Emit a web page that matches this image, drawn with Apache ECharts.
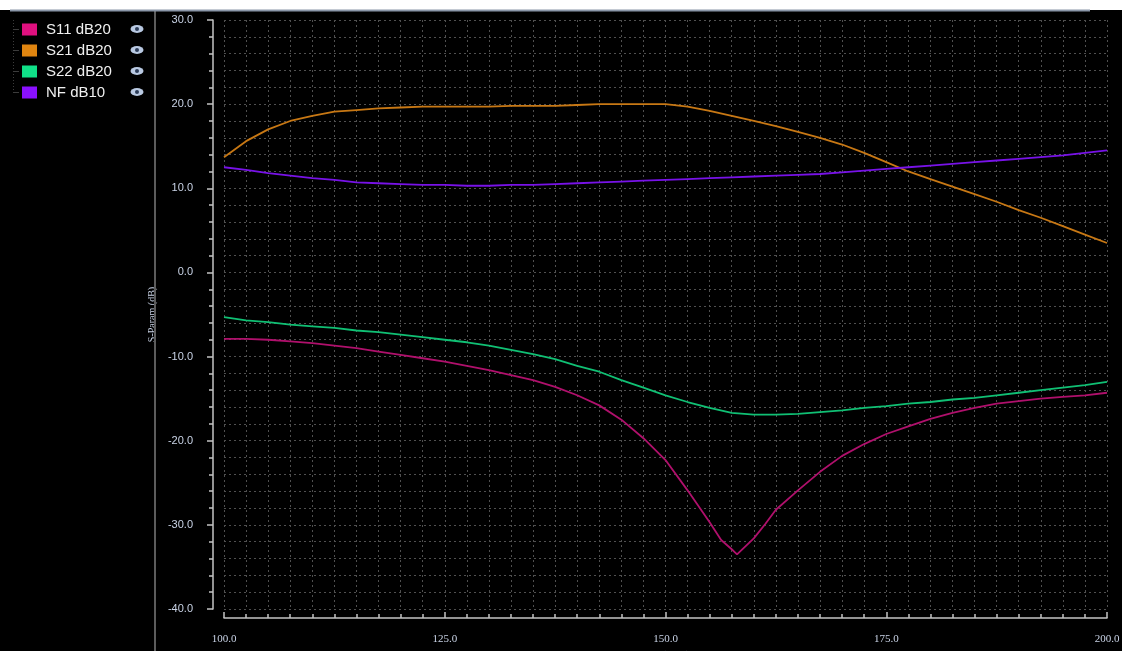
<!DOCTYPE html>
<html>
<head>
<meta charset="utf-8">
<title>S-Parameters</title>
<script src="https://cdn.jsdelivr.net/npm/echarts@6/dist/echarts.min.js"></script>
<style>
  html, body { margin: 0; padding: 0; background: #000; }
  #chart { width: 1122px; height: 651px; }
</style>
</head>
<body>
<div id="chart"></div>
<script>
// Frequency sweep (MHz) shared by S21, S22 and NF
const freq = [100,102.5,105,107.5,110,112.5,115,117.5,120,122.5,125,127.5,130,132.5,135,137.5,140,142.5,145,147.5,150,152.5,155,157.5,160,162.5,165,167.5,170,172.5,175,177.5,180,182.5,185,187.5,190,192.5,195,197.5,200];

// S11 has extra points around the match notch
const s11Freq = [100,102.5,105,107.5,110,112.5,115,117.5,120,122.5,125,127.5,130,132.5,135,137.5,140,142.5,145,147.5,150,152.5,155,156.3,157.5,158.1,160,161.3,162.5,165,167.5,170,172.5,175,177.5,180,182.5,185,187.5,190,192.5,195,197.5,200];
const s11 = [-7.9,-7.9,-8.0,-8.2,-8.4,-8.7,-9.0,-9.4,-9.8,-10.2,-10.6,-11.1,-11.6,-12.2,-12.8,-13.6,-14.6,-15.8,-17.5,-19.7,-22.3,-25.9,-29.7,-31.8,-32.9,-33.5,-31.6,-29.9,-28.2,-25.9,-23.7,-21.8,-20.4,-19.2,-18.3,-17.4,-16.7,-16.1,-15.6,-15.3,-15.0,-14.8,-14.6,-14.3];

const s21 = [13.7,15.6,17.0,18.0,18.6,19.1,19.3,19.5,19.6,19.7,19.7,19.7,19.7,19.8,19.8,19.8,19.9,20.0,20.0,20.0,20.0,19.7,19.2,18.6,18.0,17.4,16.7,16.0,15.2,14.2,13.1,12.0,11.1,10.2,9.3,8.4,7.4,6.5,5.5,4.5,3.5];
const s22 = [-5.3,-5.7,-5.9,-6.2,-6.4,-6.6,-6.9,-7.1,-7.4,-7.7,-8.0,-8.3,-8.7,-9.2,-9.7,-10.3,-11.1,-11.8,-12.8,-13.7,-14.6,-15.4,-16.1,-16.7,-16.9,-16.9,-16.8,-16.6,-16.4,-16.1,-15.9,-15.6,-15.4,-15.1,-14.9,-14.6,-14.3,-14.0,-13.7,-13.4,-13.0];
const nf = [12.5,12.2,11.8,11.5,11.2,11.0,10.7,10.6,10.5,10.4,10.4,10.3,10.3,10.4,10.4,10.5,10.6,10.7,10.8,10.9,11.0,11.1,11.2,11.3,11.4,11.5,11.6,11.7,11.9,12.1,12.3,12.5,12.7,12.9,13.1,13.3,13.5,13.7,13.9,14.2,14.5];

const traceNames = ['S11 dB20', 'S21 dB20', 'S22 dB20', 'NF dB10'];
const traceColors = ['#b0106c', '#c87814', '#10c074', '#7812e8'];
const swatchColors = ['#e0107f', '#e08510', '#10e088', '#8a10ff'];

const xAxisName = 'Freq (MHz)';
const yAxisName = 'S-Param (dB)';

function pairs(xs, ys) { return xs.map((x, i) => [x, ys[i]]); }
const traceData = [pairs(s11Freq, s11), pairs(freq, s21), pairs(freq, s22), pairs(freq, nf)];

const labelColor = '#c9d3e6';
const gridLine = { color: '#505050', width: 1, type: [2, 3] };

// Panel chrome: white title strip, top rule, separator, legend tree and visibility icons
const rowY = [29, 50, 71, 92];
const chrome = [
  { type: 'polygon', z: 100, shape: { points: [[0, 0], [1122, 0], [1122, 10], [0, 10]] }, style: { fill: '#ffffff', stroke: '#ffffff', lineWidth: 0 }, silent: true },
  { type: 'line', z: 101, shape: { x1: 10, y1: 10.5, x2: 1090, y2: 10.5 }, style: { stroke: '#8a96a8', lineWidth: 2 }, silent: true },
  { type: 'line', z: 100, shape: { x1: 155, y1: 11, x2: 155, y2: 651 }, style: { stroke: '#5c5c5c', lineWidth: 2 }, silent: true },
  { type: 'line', z: 100, shape: { x1: 13.5, y1: 20, x2: 13.5, y2: 94 }, style: { stroke: '#3c3c3c', lineWidth: 1, lineDash: [1, 2] }, silent: true }
];
rowY.forEach(y => {
  chrome.push({ type: 'line', z: 100, shape: { x1: 13, y1: y + 0.5, x2: 19, y2: y + 0.5 }, style: { stroke: '#3c3c3c', lineWidth: 1 }, silent: true });
  chrome.push({ type: 'circle', z: 100, x: 137, y: y, scaleY: 0.6, shape: { cx: 0, cy: 0, r: 6.5 }, style: { fill: '#b9c9e2' }, silent: true });
  chrome.push({ type: 'circle', z: 101, x: 137, y: y, shape: { cx: 0, cy: 0, r: 2 }, style: { fill: '#2c3c58' }, silent: true });
});

const chart = echarts.init(document.getElementById('chart'), null, { renderer: 'canvas' });
chart.setOption({
  backgroundColor: '#000000',
  animation: false,
  graphic: { elements: chrome },
  legend: {
    orient: 'vertical',
    left: 22,
    top: 22,
    padding: 0,
    itemWidth: 15,
    itemHeight: 12,
    itemGap: 6,
    selectedMode: false,
    icon: 'rect',
    textStyle: { color: '#f0f0f0', fontSize: 15, lineHeight: 15, fontFamily: 'Liberation Sans, Arial, sans-serif', padding: [0, 0, 0, 4] },
    data: traceNames.map((n, i) => ({ name: n, itemStyle: { color: swatchColors[i] } }))
  },
  grid: { left: 224, right: 15, top: 20, bottom: 42, containLabel: false, outerBoundsMode: 'none' },
  xAxis: {
    type: 'value',
    min: 100, max: 200, interval: 25,
    offset: 9,
    name: xAxisName,
    nameLocation: 'middle',
    nameGap: 27,
    nameTextStyle: { color: labelColor, fontSize: 10, fontFamily: 'Liberation Serif, serif' },
    axisLine: { show: true, onZero: false, lineStyle: { color: '#c4c4c4', width: 1.5 } },
    axisTick: { show: true, inside: true, length: 6, lineStyle: { color: '#c4c4c4', width: 1.5 } },
    minorTick: { show: true, splitNumber: 10, length: 4, lineStyle: { color: '#c4c4c4', width: 1.5 } },
    axisLabel: { color: labelColor, fontSize: 11, margin: 16, fontFamily: 'Liberation Serif, serif', formatter: v => v.toFixed(1) },
    splitLine: { show: true, lineStyle: gridLine },
    minorSplitLine: { show: true, lineStyle: gridLine }
  },
  yAxis: {
    type: 'value',
    min: -40, max: 30, interval: 10,
    offset: 11,
    name: yAxisName,
    nameLocation: 'middle',
    nameGap: 35,
    nameTextStyle: { color: labelColor, fontSize: 10, fontFamily: 'Liberation Serif, serif' },
    axisLine: { show: true, onZero: false, lineStyle: { color: '#c4c4c4', width: 1.5 } },
    axisTick: { show: true, inside: false, length: 6, lineStyle: { color: '#c4c4c4', width: 1.5 } },
    minorTick: { show: true, splitNumber: 5, length: 4, lineStyle: { color: '#c4c4c4', width: 1.5 } },
    axisLabel: { color: labelColor, fontSize: 11, margin: 20, fontFamily: 'Liberation Sans, sans-serif', formatter: v => v.toFixed(1) },
    splitLine: { show: true, lineStyle: gridLine },
    minorSplitLine: { show: true, lineStyle: gridLine }
  },
  series: traceNames.map((n, i) => ({
    name: n,
    type: 'line',
    data: traceData[i],
    showSymbol: false,
    smooth: false,
    color: traceColors[i],
    lineStyle: { color: traceColors[i], width: 1.8 },
    emphasis: { disabled: true }
  }))
});
</script>
</body>
</html>
